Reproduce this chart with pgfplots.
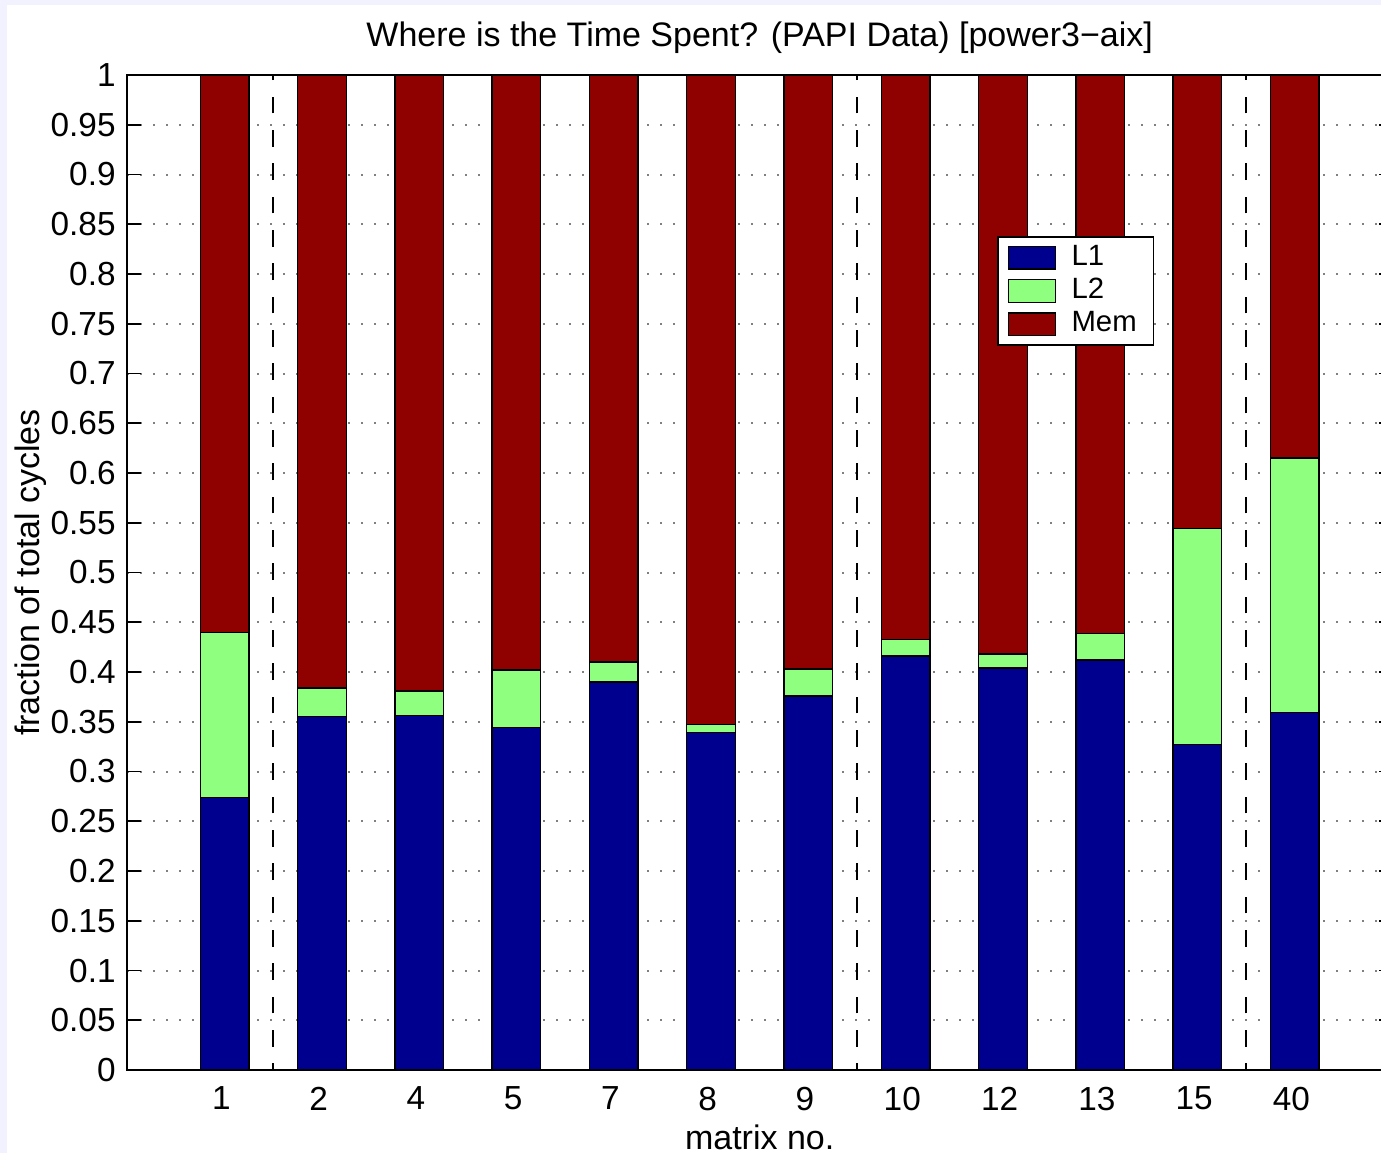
\documentclass[border=0pt]{standalone}
\usepackage{pgfplots}
\pgfplotsset{compat=1.18}
\usepackage{fontspec}
\setmainfont{Liberation Sans}
\definecolor{cLone}{RGB}{0,0,143}
\definecolor{cLtwo}{RGB}{143,255,127}
\definecolor{cMem}{RGB}{143,0,0}
\definecolor{bgl}{RGB}{242,242,255}
\begin{document}
\begin{tikzpicture}
\path[use as bounding box] (0pt,0pt) rectangle (414.3pt,-345.9pt);
\clip (0pt,0pt) rectangle (414.3pt,-345.9pt);
\fill[bgl] (0pt,0pt) rectangle (414.3pt,-345.9pt);
\fill[white] (2.1pt,-1.5pt) rectangle (420pt,-350pt);
\begin{axis}[
  scale only axis, width=379.4pt, height=298.5pt,
  at={(38.2pt,-321pt)}, anchor=south west,
  ybar stacked, bar width=0.5,
  xmin=0, xmax=13, ymin=0, ymax=1,
  xtick={1,2,3,4,5,6,7,8,9,10,11,12},
  xticklabels={1,2,4,5,7,8,9,10,12,13,15,40},
  ytick={0,0.05,0.1,0.15,0.2,0.25,0.3,0.35,0.4,0.45,0.5,0.55,0.6,0.65,0.7,0.75,0.8,0.85,0.9,0.95,1},
  yticklabel style={/pgf/number format/fixed,/pgf/number format/precision=2},
  /pgf/number format/assume math mode=true,
  ticklabel style={font=\fontsize{10}{12}\selectfont},
  xticklabel style={yshift=-1.5pt, xshift=-1pt},
  tick align=inside, major tick length=4pt,
  tick style={black, line width=0.5pt},
  axis line style={line width=0.6pt},
  ymajorgrids,
  grid style={gray, line width=0.6pt, dash pattern=on 0.6pt off 3.3pt},
  title={Where is the Time Spent? (PAPI Data) [power3−aix]},
  title style={font=\fontsize{10.2}{12}\selectfont, at={(axis description cs:0.5,1.0081)}, anchor=base},
  xlabel={matrix no.},
  xlabel style={font=\fontsize{10.2}{12}\selectfont, at={(axis description cs:0.5,-0.0673)}, anchor=center},
  ylabel={fraction of total cycles},
  ylabel style={font=\fontsize{10.2}{12}\selectfont, at={(axis description cs:-0.0767,0.5)}, anchor=center},
  legend image code/.code={\draw[#1] (1.8pt,-3.4pt) rectangle (15.8pt,3.4pt); \path (18.5pt,0pt);},
  legend style={at={(0.6877,0.838)}, anchor=north west, draw=black, line width=0.5pt,
    font=\fontsize{8.8}{10}\selectfont, cells={anchor=west}, row sep=-1.6pt,
    inner xsep=3pt, inner ysep=0.4pt},
]
\addplot[fill=cLone, draw=black, line width=0.4pt] coordinates {
(1,0.274) (2,0.355) (3,0.356) (4,0.344) (5,0.390) (6,0.339) (7,0.376) (8,0.416) (9,0.404) (10,0.412) (11,0.327) (12,0.359)};
\addplot[fill=cLtwo, draw=black, line width=0.4pt] coordinates {
(1,0.166) (2,0.029) (3,0.025) (4,0.058) (5,0.020) (6,0.008) (7,0.027) (8,0.017) (9,0.014) (10,0.027) (11,0.217) (12,0.256)};
\addplot[fill=cMem, draw=black, line width=0.4pt] coordinates {
(1,0.560) (2,0.616) (3,0.619) (4,0.598) (5,0.590) (6,0.653) (7,0.597) (8,0.567) (9,0.582) (10,0.561) (11,0.456) (12,0.385)};
\legend{L1,L2,Mem}
\end{axis}
\begin{axis}[
  scale only axis, width=379.4pt, height=298.5pt,
  at={(38.2pt,-321pt)}, anchor=south west,
  xmin=0, xmax=13, ymin=0, ymax=1, hide axis,
]
\addplot[black, line width=0.5pt, dash pattern=on 5pt off 5pt, dash phase=3pt] coordinates {(1.5,0) (1.5,1)};
\addplot[black, line width=0.5pt, dash pattern=on 5pt off 5pt, dash phase=3pt] coordinates {(7.5,0) (7.5,1)};
\addplot[black, line width=0.5pt, dash pattern=on 5pt off 5pt, dash phase=3pt] coordinates {(11.5,0) (11.5,1)};
\end{axis}
\end{tikzpicture}
\end{document}
